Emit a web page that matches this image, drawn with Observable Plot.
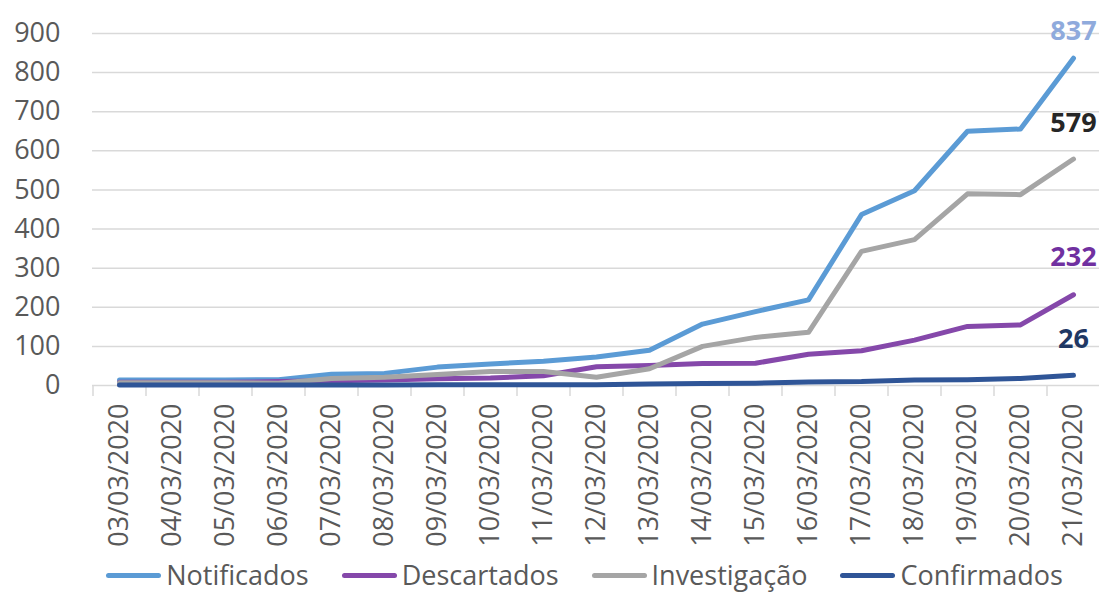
<!DOCTYPE html>
<html><head><meta charset="utf-8">
<script src="https://cdn.jsdelivr.net/npm/d3@7"></script>
<script src="https://cdn.jsdelivr.net/npm/@observablehq/plot@0.6"></script>
<style>
body{margin:0;background:#fff;font-family:"Open Sans",sans-serif;overflow:hidden;}
#chart{height:558px;}
#legend{display:flex;justify-content:center;align-items:center;height:34px;line-height:30px;padding-left:70px;font-size:27px;color:#595959;font-family:"Open Sans",sans-serif;}
.item{display:flex;align-items:center;margin-right:33px;white-space:nowrap;line-height:30px}
.item:last-child{margin-right:0}
.sw{width:55px;height:5px;border-radius:3px;margin-right:5px}
</style></head><body><div id="chart"></div><div id="legend"></div>
<script>
const dates = ["03/03/2020","04/03/2020","05/03/2020","06/03/2020","07/03/2020","08/03/2020","09/03/2020","10/03/2020","11/03/2020","12/03/2020","13/03/2020","14/03/2020","15/03/2020","16/03/2020","17/03/2020","18/03/2020","19/03/2020","20/03/2020","21/03/2020"];
const notificados  = [14,14,14,15,29,31,47,55,62,73,90,157,189,219,437,498,650,656,837];
const descartados  = [8,8,8,10,12,14,17,19,25,48,51,56,57,80,89,116,151,155,232];
const investigacao = [7,7,7,6,18,21,28,36,36,21,43,100,123,136,343,373,490,488,579];
const confirmados  = [1,1,1,1,1,1,2,2,2,2,4,5,6,9,10,14,15,18,26];
const seriesNames = ["Notificados","Descartados","Investigação","Confirmados"];
const seriesValues = [notificados, descartados, investigacao, confirmados];
const yTicks = [0,100,200,300,400,500,600,700,800,900];

const lineColors = ["#5B9BD5","#8548AA","#A5A5A5","#2F5597"];
const labelColors = ["#8FAADC","#7030A0","#262626","#1F3864"];
const labelDy = [-27,-37,-36,-36];

const rows = seriesNames.flatMap((s,i) => dates.map((d,j) => ({date:d, series:s, value:seriesValues[i][j]})));
const lastRows = seriesNames.map((s,i) => ({date:dates[dates.length-1], series:s, value:seriesValues[i][dates.length-1]}));

const W = 1099, ML = 92, MR = 0;
const halfStep = (W - ML - MR) / dates.length / 2;

const chart = Plot.plot({
  width: W, height: 558,
  marginLeft: ML, marginRight: MR, marginTop: 33, marginBottom: 173,
  style: {fontFamily: "'Open Sans', sans-serif", fontSize: "27px", color: "#595959", background: "white", overflow: "visible"},
  x: {type: "point", domain: dates, padding: 0.5, label: null},
  y: {domain: [0, 900], label: null},
  color: {domain: seriesNames, range: lineColors},
  marks: [
    Plot.gridY({ticks: yTicks.slice(1), stroke: "#d9d9d9", strokeOpacity: 1, strokeWidth: 1.5}),
    Plot.axisY({ticks: yTicks, tickSize: 0, tickPadding: 32, fill: "#595959", label: null}),
    Plot.axisX({tickSize: 0, tickRotate: -90, tickPadding: 18, fill: "#595959", label: null}),
    Plot.axisX({tickSize: 11, tickFormat: () => "", dx: -halfStep, stroke: "#d9d9d9", strokeOpacity: 1, strokeWidth: 1.5, label: null}),
    Plot.ruleY([0], {stroke: "#d9d9d9", strokeWidth: 1.5}),
    Plot.line(rows, {x: "date", y: "value", z: "series", stroke: "series", strokeWidth: 5, strokeLinejoin: "round", strokeLinecap: "round"}),
    ...lastRows.map((r,i) => Plot.text([r], {x: "date", y: "value", text: d => String(d.value), fill: labelColors[i], dy: labelDy[i], fontWeight: "bold", fontSize: 27}))
  ]
});
document.getElementById("chart").appendChild(chart);

const legend = document.getElementById("legend");
seriesNames.forEach((s,i) => {
  const item = document.createElement("div");
  item.className = "item";
  const sw = document.createElement("span");
  sw.className = "sw";
  sw.style.background = lineColors[i];
  const t = document.createElement("span");
  t.textContent = s;
  item.appendChild(sw); item.appendChild(t);
  legend.appendChild(item);
});
</script></body></html>
